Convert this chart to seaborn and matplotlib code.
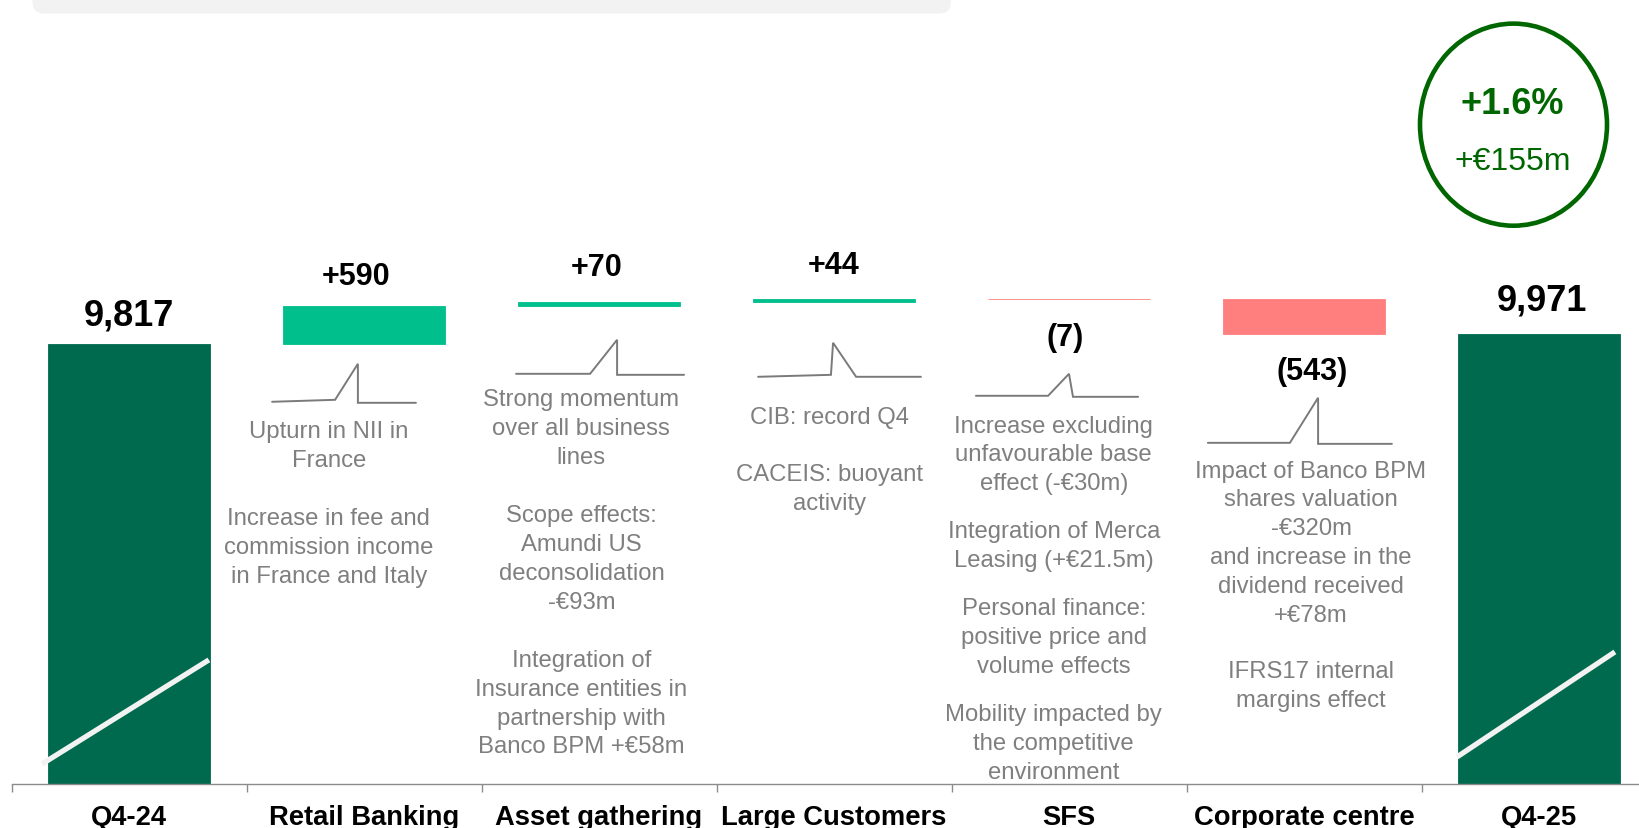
import matplotlib
matplotlib.use("Agg")
import matplotlib.pyplot as plt
import seaborn as sns
import pandas as pd
import numpy as np
from matplotlib import transforms
from matplotlib.patches import Ellipse, FancyBboxPatch

# ---------------- data ----------------
categories = ["Q4-24", "Retail Banking", "Asset gathering", "Large Customers",
              "SFS", "Corporate centre", "Q4-25"]
start_value = 9817
deltas = [590, 70, 44, -7, -543]
end_value = 9971
circle_pct = "+1.6%"
circle_abs = "+€155m"

notes = [
    None,
    [["Upturn in NII in", "France"],
     ["Increase in fee and", "commission income", "in France and Italy"]],
    [["Strong momentum", "over all business", "lines"],
     ["Scope effects:", "Amundi US", "deconsolidation", "-€93m"],
     ["Integration of", "Insurance entities in", "partnership with", "Banco BPM +€58m"]],
    [["CIB: record Q4"],
     ["CACEIS: buoyant", "activity"]],
    [["Increase excluding", "unfavourable base", "effect (-€30m)"],
     ["Integration of Merca", "Leasing (+€21.5m)"],
     ["Personal finance:", "positive price and", "volume effects"],
     ["Mobility impacted by", "the competitive", "environment"]],
    [["Impact of Banco BPM", "shares valuation", "-€320m", "and increase in the",
      "dividend received", "+€78m"],
     ["IFRS17 internal", "margins effect"]],
    None,
]

# ---------------- layout / style ----------------
W, H, DPI = 1639, 828, 100
DARK = "#006A4E"
POS = "#00BF8C"
NEG = "#FF7F7F"
GRAY_TXT = "#7F7F7F"
CIRCLE = "#006600"

sns.set_style("white")
plt.rcParams["font.family"] = ["Liberation Sans", "DejaVu Sans"]

fig = plt.figure(figsize=(W / DPI, H / DPI + 0.004), dpi=DPI)
fig.patch.set_facecolor("white")

x0_px, cat_px, base_px = 11.5, 235.0, 784.0
px_per_unit = 0.0637
y_low = 2910
y_high = y_low + base_px / px_per_unit
ax = fig.add_axes([x0_px / W, (H - base_px) / H, 1 - x0_px / W, base_px / H])

# waterfall geometry from data
cum = start_value + np.concatenate([[0], np.cumsum(deltas)])
bottoms = [0] + list(cum[:-1]) + [0]
heights = [start_value] + list(deltas) + [end_value]
colors = [DARK] + [POS if d >= 0 else NEG for d in deltas] + [DARK]

df = pd.DataFrame({"category": categories, "height": heights})
sns.barplot(data=df, x="category", y="height", order=categories, bottom=bottoms,
            width=0.69, errorbar=None, linewidth=0, color=DARK, ax=ax, zorder=2)
for p, c in zip(ax.patches, colors):
    p.set_facecolor(c)
    p.set_edgecolor(c)
    p.set_linewidth(0.6)

ax.set_xlim(-0.5, -0.5 + (W - x0_px) / cat_px)
ax.set_ylim(y_low, y_high)
ax.set_xlabel("")
ax.set_ylabel("")
ax.set_yticks([])
for s in ["left", "top", "right"]:
    ax.spines[s].set_visible(False)
ax.spines["bottom"].set_color("#8C8C8C")
ax.spines["bottom"].set_linewidth(1.0)
ax.set_xticks(range(len(categories)))
ax.set_xticklabels(categories, fontsize=19.7, fontweight="bold", color="black")
ax.set_xticks(np.arange(-0.5, len(categories) - 0.5, 1.0), minor=True)
ax.tick_params(axis="x", which="major", bottom=True, length=0, pad=15)
ax.tick_params(axis="x", which="minor", bottom=True, length=5.8, width=1.0,
               color="#8C8C8C", direction="out")

# value labels
def fmt(i, v):
    if i == 0 or i == len(categories) - 1:
        return f"{v:,}"
    return f"+{v}" if v >= 0 else f"({-v})"

label_vals = [start_value] + list(deltas) + [end_value]
label_off = [(0, 20.0), (-6, 21.2), (-2, 24.5), (0, 24.3), (-3, -27.2), (6, -27.2), (2, 24.0)]
for i, v in enumerate(label_vals):
    if i == 0 or i == len(categories) - 1:
        yref, size = v, 26
    else:
        b, h = bottoms[i], heights[i]
        yref = max(b, b + h) if v >= 0 else min(b, b + h)
        size = 22
    ax.annotate(fmt(i, v), (i, yref), xytext=label_off[i], textcoords="offset points",
                ha="center", va="center", fontsize=size, fontweight="bold",
                color="black", zorder=5)

# axis-break diagonals on the total bars
diag = {0: ([-0.370, 0.340], [3224, 4857]), 6: ([-0.349, 0.323], [3334, 4982])}
for i, (dx, yy) in diag.items():
    ax.plot([i + d for d in dx], yy, color="#F2F2F2", lw=3.8,
            solid_capstyle="butt", zorder=3, clip_on=False)

# break zig-zags under each step
zig = {
    1: ([-0.391, -0.123, -0.026, -0.026, 0.221], [8907, 8938, 9503, 8891, 8891]),
    2: ([-0.353, -0.038, 0.077, 0.077, 0.362], [9346, 9346, 9880, 9330, 9330]),
    3: ([-0.323, -0.013, -0.004, 0.094, 0.370], [9299, 9330, 9833, 9299, 9299]),
    4: ([-0.396, -0.089, 0.000, 0.017, 0.294], [9001, 9001, 9346, 8985, 8985]),
    5: ([-0.409, -0.060, 0.060, 0.060, 0.374], [8263, 8263, 8970, 8247, 8247]),
}
for i, (dx, yy) in zig.items():
    ax.plot([i + d for d in dx], yy, color="#7A7A7A", lw=1.4, zorder=3,
            solid_joinstyle="miter")

# commentary text
note_x = {1: -0.15, 2: -0.075, 3: -0.02, 4: -0.065, 5: 0.03}
note_top = {1: 431.6, 2: 400.3, 3: 418.0, 4: 426.4, 5: 471.3}
note_gap = {1: 58.5, 2: 58.0, 3: 56.5, 4: 48.0, 5: 56.5}
step = 28.85
blend = transforms.blended_transform_factory(ax.transData, fig.transFigure)
for i, paras in enumerate(notes):
    if not paras:
        continue
    y = note_top[i]
    for pi, para in enumerate(paras):
        if pi > 0:
            y += note_gap[i] - step
        for line in para:
            ax.text(i + note_x[i], 1 - y / H, line, transform=blend, ha="center",
                    va="center", fontsize=17.2, color=GRAY_TXT, zorder=4)
            y += step

# circle highlight
fig.add_artist(Ellipse((1513.5 / W, 1 - 125.0 / H), 187 / W, 202 / H,
                       transform=fig.transFigure, fill=False, edgecolor=CIRCLE, lw=3.3))
fig.text(1512.6 / W, 1 - 104.5 / H, circle_pct, ha="center", va="center",
         fontsize=26, fontweight="bold", color=CIRCLE)
fig.text(1512.6 / W, 1 - 162.0 / H, circle_abs, ha="center", va="center",
         fontsize=23, color=CIRCLE)

# top grey banner remnant
fig.add_artist(FancyBboxPatch((32.4, H - 13.6), 951 - 32.4, 60,
                              boxstyle="round,pad=0,rounding_size=12",
                              transform=transforms.IdentityTransform(),
                              facecolor="#F2F2F2", edgecolor="none"))

fig.savefig("out.png", dpi=DPI, facecolor="white")
